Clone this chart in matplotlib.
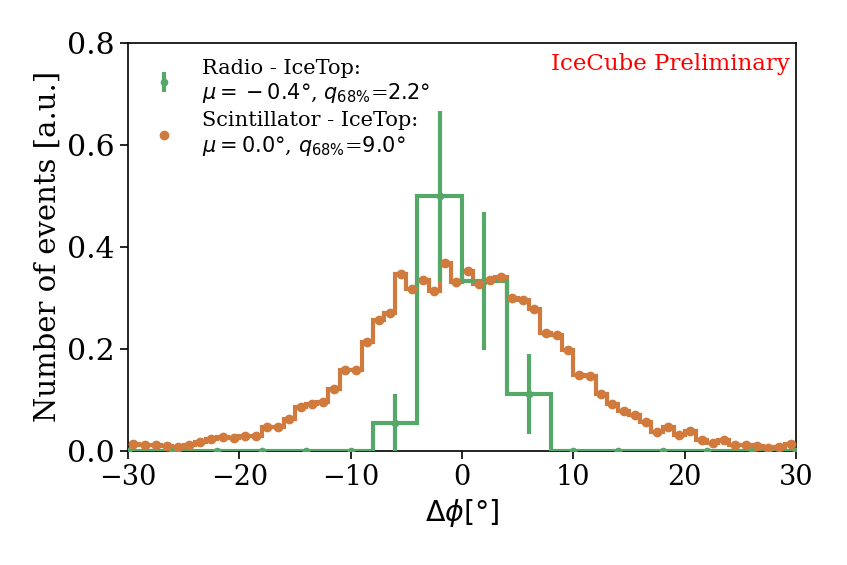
import numpy as np
import matplotlib
matplotlib.use("Agg")
import matplotlib.pyplot as plt

plt.rcParams["font.family"] = "serif"
plt.rcParams["font.serif"] = ["DejaVu Serif"]
plt.rcParams["mathtext.fontset"] = "dejavusans"

# radio - icetop, 4 deg bins
radio_edges = np.arange(-32, 33, 4)
radio_counts = [0, 0, 0, 0, 0, 0, 1, 9, 6, 2, 0, 0, 0, 0, 0, 0]

# scintillator - icetop, 1 deg bins (normalised)
scint_edges = np.arange(-30, 31, 1)
scint_vals = [0.014, 0.011, 0.012, 0.009, 0.008, 0.011, 0.017, 0.024, 0.028, 0.026,
              0.029, 0.029, 0.047, 0.046, 0.062, 0.086, 0.091, 0.095, 0.122, 0.158,
              0.158, 0.214, 0.256, 0.271, 0.346, 0.317, 0.335, 0.314, 0.369, 0.332,
              0.353, 0.327, 0.335, 0.341, 0.300, 0.296, 0.279, 0.232, 0.228, 0.197,
              0.148, 0.147, 0.112, 0.091, 0.079, 0.071, 0.057, 0.037, 0.046, 0.032,
              0.038, 0.021, 0.015, 0.022, 0.012, 0.012, 0.009, 0.006, 0.008, 0.013]

green = "#55a868"
orange = "#d07a3d"

radio_counts = np.array(radio_counts, dtype=float)
n_radio = radio_counts.sum()
radio_vals = radio_counts / n_radio
radio_err = np.sqrt(radio_counts) / n_radio
radio_centers = 0.5 * (radio_edges[1:] + radio_edges[:-1])
scint_centers = 0.5 * (scint_edges[1:] + scint_edges[:-1])

fig = plt.figure(figsize=(8.47, 5.65), dpi=100)
ax = fig.add_axes([0.151, 0.202, 0.789, 0.722])

ax.stairs(scint_vals, scint_edges, color=orange, lw=3, zorder=2)
ax.stairs(radio_vals, radio_edges, color=green, lw=3, zorder=3)
h1 = ax.errorbar(radio_centers, radio_vals, yerr=radio_err, fmt="o", color=green,
                 ms=4.5, elinewidth=3, capsize=0, zorder=4,
                 label="Radio - IceTop:\n" + r"$\mu = {} - 0.4°$, $q_{68\%}$=$2.2°$")
h2, = ax.plot(scint_centers, scint_vals, "o", color=orange, ms=6, zorder=5,
              label="Scintillator - IceTop:\n" + r"$\mu = 0.0°$, $q_{68\%}$=$9.0°$")

ax.set_xlim(-30, 30)
ax.set_ylim(0, 0.8)
ax.set_yticks([0.0, 0.2, 0.4, 0.6, 0.8])
ax.set_xlabel(r"$\Delta\phi [°]$", fontsize=20.5)
ax.set_ylabel("Number of events [a.u.]", fontsize=21)
ax.tick_params(axis="x", labelsize=19.5, length=6, width=1.2)
ax.tick_params(axis="y", labelsize=21.5, length=6, width=1.2)
for s in ax.spines.values():
    s.set_linewidth(1.2)

ax.text(0.99, 0.975, "IceCube Preliminary", color="red", fontsize=16.5,
        ha="right", va="top", transform=ax.transAxes)
ax.legend(handles=[h1, h2], loc="upper left", frameon=False, fontsize=15,
          handlelength=2, borderaxespad=0.35, labelspacing=0.3, handletextpad=0.8)

fig.savefig("out.png", dpi=100)
